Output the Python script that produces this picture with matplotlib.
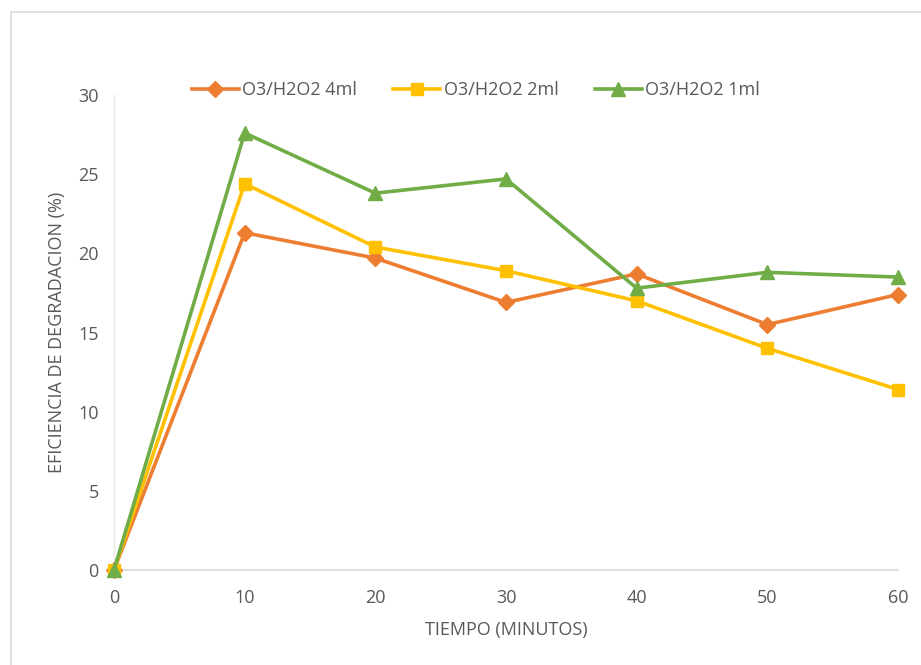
import matplotlib
matplotlib.use("Agg")
import matplotlib.pyplot as plt
from matplotlib.patches import Rectangle

# degradation efficiency vs. contact time for three peroxide doses
tiempo = [0, 10, 20, 30, 40, 50, 60]
ef_4ml = [0, 21.3, 19.7, 16.9, 18.7, 15.5, 17.4]
ef_2ml = [0, 24.4, 20.4, 18.9, 17.0, 14.0, 11.4]
ef_1ml = [0, 27.6, 23.8, 24.7, 17.8, 18.8, 18.5]

labels = ["O3/H2O2 4ml", "O3/H2O2 2ml", "O3/H2O2 1ml"]
x_ticks = [0, 10, 20, 30, 40, 50, 60]
y_ticks = [0, 5, 10, 15, 20, 25, 30]

plt.rcParams["font.family"] = ["Open Sans", "DejaVu Sans"]
text_color = "#595959"
axis_color = "#D9D9D9"

fig = plt.figure(figsize=(9.21, 6.65), dpi=100)
fig.patch.set_facecolor("white")

# chart-area border (only top and left edges fall inside the image)
fig.patches.append(Rectangle((11 / 921, -0.1), 1.2, 1 - 12 / 665 + 0.1,
                             transform=fig.transFigure, fill=False,
                             edgecolor=axis_color, linewidth=1.2))

ax = fig.add_axes([114 / 921, 1 - 570 / 665, (898 - 114) / 921, (570 - 95) / 665])

ax.plot(tiempo, ef_4ml, color="#ED7D31", lw=2.6, marker="D", markersize=8,
        label=labels[0], clip_on=False, zorder=3)
ax.plot(tiempo, ef_2ml, color="#FFC000", lw=2.6, marker="s", markersize=9,
        label=labels[1], clip_on=False, zorder=4)
ax.plot(tiempo, ef_1ml, color="#70AD47", lw=2.6, marker="^", markersize=9.5,
        label=labels[2], clip_on=False, zorder=5)

ax.set_xlim(0, 60)
ax.set_ylim(0, 30)
ax.set_xticks(x_ticks)
ax.set_yticks(y_ticks)

for side in ["top", "right"]:
    ax.spines[side].set_visible(False)
ax.spines["bottom"].set_color(axis_color)
ax.spines["left"].set_color("#E6E6E6")
ax.spines["bottom"].set_linewidth(1.2)
ax.spines["left"].set_linewidth(1.0)

ax.tick_params(axis="both", length=0, labelsize=13, colors=text_color)
ax.tick_params(axis="x", pad=14)
ax.tick_params(axis="y", pad=11)

ax.set_xlabel("TIEMPO (MINUTOS)", fontsize=13, color=text_color, labelpad=10)
ax.set_ylabel("EFICIENCIA DE DEGRADACION (%)", fontsize=13, color=text_color, labelpad=9)

fig.legend(loc="center", bbox_to_anchor=(476 / 921, 1 - 90 / 665), ncol=3,
           frameon=False, fontsize=13, labelcolor=text_color,
           handlelength=2.6, handletextpad=0.2, columnspacing=2.0)

fig.savefig("out.png", dpi=100, facecolor="white")
